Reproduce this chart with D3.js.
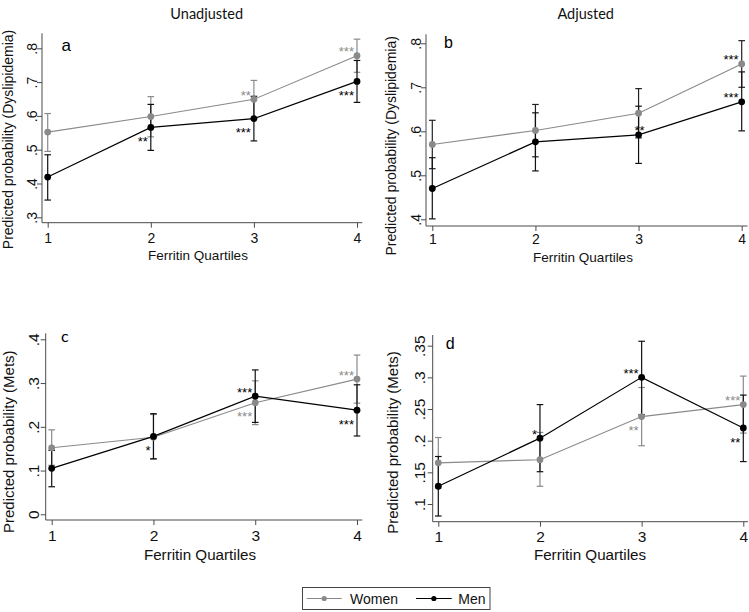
<!DOCTYPE html>
<html>
<head>
<meta charset="utf-8">
<script src="https://cdn.jsdelivr.net/npm/d3@7"></script>
<style>
  html, body { margin: 0; padding: 0; background: #fff; }
  svg { display: block; }
</style>
</head>
<body>
<svg id="chart" width="749" height="612"></svg>
<script>
// ---------------- DATA ----------------
const quartiles = [1, 2, 3, 4];
const seriesNames = ["Women", "Men"];

// Panel a: Dyslipidemia, unadjusted
const aWomen   = [0.552, 0.598, 0.649, 0.778];
const aWomenLo = [0.495, 0.538, 0.592, 0.729];
const aWomenHi = [0.607, 0.657, 0.705, 0.827];
const aMen     = [0.419, 0.566, 0.592, 0.702];
const aMenLo   = [0.351, 0.498, 0.526, 0.640];
const aMenHi   = [0.485, 0.634, 0.658, 0.764];
const aYTicks  = [0.3, 0.4, 0.5, 0.6, 0.7, 0.8];
const aYLabels = [".3", ".4", ".5", ".6", ".7", ".8"];
const aStars = [
  { series: "Women", q: 3, label: "**",  pos: 11 },
  { series: "Women", q: 4, label: "***", pos: 11 },
  { series: "Men",   q: 2, label: "**",  pos: 7 },
  { series: "Men",   q: 3, label: "***", pos: 7 },
  { series: "Men",   q: 4, label: "***", pos: 7 }
];

// Panel b: Dyslipidemia, adjusted
const bWomen   = [0.570, 0.602, 0.641, 0.753];
const bWomenLo = [0.515, 0.542, 0.585, 0.700];
const bWomenHi = [0.625, 0.661, 0.697, 0.806];
const bMen     = [0.470, 0.576, 0.592, 0.667];
const bMenLo   = [0.401, 0.510, 0.527, 0.601];
const bMenHi   = [0.540, 0.642, 0.657, 0.735];
const bYTicks  = [0.4, 0.5, 0.6, 0.7, 0.8];
const bYLabels = [".4", ".5", ".6", ".7", ".8"];
const bStars = [
  { series: "Men",   q: 3, label: "**",  pos: 12 },
  { series: "Women", q: 4, label: "***", pos: 11 },
  { series: "Men",   q: 4, label: "***", pos: 11 }
];

// Panel c: Mets, unadjusted
const cWomen   = [0.152, 0.176, 0.255, 0.309];
const cWomenLo = [0.112, 0.126, 0.205, 0.254];
const cWomenHi = [0.193, 0.228, 0.305, 0.364];
const cMen     = [0.105, 0.178, 0.270, 0.238];
const cMenLo   = [0.063, 0.127, 0.210, 0.179];
const cMenHi   = [0.146, 0.230, 0.330, 0.296];
const cYTicks  = [0, 0.1, 0.2, 0.3, 0.4];
const cYLabels = ["0", ".1", ".2", ".3", ".4"];
const cStars = [
  { series: "Men",   q: 2, label: "*",   pos: 7 },
  { series: "Men",   q: 3, label: "***", pos: 11 },
  { series: "Women", q: 3, label: "***", pos: 7 },
  { series: "Women", q: 4, label: "***", pos: 11 },
  { series: "Men",   q: 4, label: "***", pos: 7 }
];

// Panel d: Mets, adjusted
const dWomen   = [0.165, 0.170, 0.238, 0.257];
const dWomenLo = [0.125, 0.128, 0.192, 0.212];
const dWomenHi = [0.205, 0.213, 0.284, 0.302];
const dMen     = [0.128, 0.204, 0.300, 0.220];
const dMenLo   = [0.081, 0.151, 0.241, 0.167];
const dMenHi   = [0.175, 0.257, 0.357, 0.272];
const dYTicks  = [0.1, 0.15, 0.2, 0.25, 0.3, 0.35];
const dYLabels = [".1", ".15", ".2", ".25", ".3", ".35"];
const dStars = [
  { series: "Men",   q: 2, label: "*",   pos: 11 },
  { series: "Men",   q: 3, label: "***", pos: 11 },
  { series: "Women", q: 3, label: "**",  pos: 7 },
  { series: "Women", q: 4, label: "***", pos: 11 },
  { series: "Men",   q: 4, label: "**",  pos: 7 }
];

const titles = ["Unadjusted", "Adjusted"];
const xTitle = "Ferritin Quartiles";
const yTitles = ["Predicted probability (Dyslipidemia)", "Predicted probability (Mets)"];
const panelLetters = ["a", "b", "c", "d"];

// ---------------- STYLE / LAYOUT ----------------
const GREY = "#8a8a8a";
const BLACK = "#000";
const AXIS = "#4a4a4a";
const FONT = "'Liberation Sans', Arial, sans-serif";

const svg = d3.select("#chart");

function series(vals, lo, hi) {
  return quartiles.map((q, i) => ({ q, v: vals[i], lo: lo[i], hi: hi[i] }));
}

const panels = [
  { letter: panelLetters[0], letterPos: [61.5, 50.7], letterFont: FONT, letterSize: 17,
    women: series(aWomen, aWomenLo, aWomenHi), men: series(aMen, aMenLo, aMenHi),
    yTicks: aYTicks, yLabels: aYLabels, stars: aStars,
    yDomain: [0.3, 0.8], yRange: [217.3, 48.3], xRange: [47.7, 357],
    axisX: 42, axisY: 222.7, axisTop: 33.3, axisRight: 362.3,
    yLabelX: 31.7, xLabelBase: 243.3, tickFont: 14,
    yTitle: yTitles[0], yTitleX: 12.5, yTitleY: 139.5, yTitleSize: 14,
    xTitleX: 198, xTitleY: 260, xTitleSize: 13.5, womenCI: GREY, starInk: null },
  { letter: panelLetters[1], letterPos: [444, 48.3], letterFont: FONT, letterSize: 16,
    women: series(bWomen, bWomenLo, bWomenHi), men: series(bMen, bMenLo, bMenHi),
    yTicks: bYTicks, yLabels: bYLabels, stars: bStars,
    yDomain: [0.4, 0.8], yRange: [219.3, 43.3], xRange: [432.3, 741.7],
    axisX: 426, axisY: 226, axisTop: 34.3, axisRight: 747.5,
    yLabelX: 416, xLabelBase: 244, tickFont: 14,
    yTitle: yTitles[0], yTitleX: 396, yTitleY: 145.8, yTitleSize: 14,
    xTitleX: 583, xTitleY: 262, xTitleSize: 13.5, womenCI: "#222", starInk: BLACK },
  { letter: panelLetters[2], letterPos: [61, 341.7], letterFont: "Lato, 'Open Sans', sans-serif", letterSize: 16,
    women: series(cWomen, cWomenLo, cWomenHi), men: series(cMen, cMenLo, cMenHi),
    yTicks: cYTicks, yLabels: cYLabels, stars: cStars,
    yDomain: [0, 0.4], yRange: [514.3, 339.3], xRange: [51.7, 357],
    axisX: 45.7, axisY: 520, axisTop: 333.3, axisRight: 362.3,
    yLabelX: 33.8, xLabelBase: 540.7, tickFont: 15.5,
    yTitle: yTitles[1], yTitleX: 14, yTitleY: 441.7, yTitleSize: 15,
    xTitleX: 200, xTitleY: 559.5, xTitleSize: 15.2, womenCI: GREY, starInk: null },
  { letter: panelLetters[3], letterPos: [445.7, 349.3], letterFont: FONT, letterSize: 16,
    women: series(dWomen, dWomenLo, dWomenHi), men: series(dMen, dMenLo, dMenHi),
    yTicks: dYTicks, yLabels: dYLabels, stars: dStars,
    yDomain: [0.1, 0.35], yRange: [504, 345.7], xRange: [438.3, 743.3],
    axisX: 432.7, axisY: 521.7, axisTop: 335, axisRight: 748,
    yLabelX: 420, xLabelBase: 541.7, tickFont: 15.5,
    yTitle: yTitles[1], yTitleX: 398.4, yTitleY: 442.5, yTitleSize: 15,
    xTitleX: 590, xTitleY: 559.5, xTitleSize: 15.2, womenCI: GREY, starInk: null }
];

// Column titles
svg.append("text").attr("x", 206.7).attr("y", 19.3).attr("text-anchor", "middle")
  .attr("font-family", "Lato, 'Open Sans', sans-serif").attr("font-size", 14.5).attr("fill", "#111")
  .text(titles[0]);
svg.append("text").attr("x", 585.7).attr("y", 19.3).attr("text-anchor", "middle")
  .attr("font-family", "Lato, 'Open Sans', sans-serif").attr("font-size", 14.5).attr("fill", "#111")
  .text(titles[1]);

panels.forEach(p => {
  const g = svg.append("g");
  const x = d3.scaleLinear().domain([1, 4]).range(p.xRange);
  const y = d3.scaleLinear().domain(p.yDomain).range(p.yRange);

  // Axis lines
  g.append("line").attr("x1", p.axisX).attr("x2", p.axisX).attr("y1", p.axisTop).attr("y2", p.axisY)
    .attr("stroke", AXIS).attr("stroke-width", 1);
  g.append("line").attr("x1", p.axisX).attr("x2", p.axisRight).attr("y1", p.axisY).attr("y2", p.axisY)
    .attr("stroke", AXIS).attr("stroke-width", 1);

  // Y axis ticks
  const yAx = g.append("g").attr("transform", `translate(${p.axisX},0)`)
    .call(d3.axisLeft(y).tickValues(p.yTicks).tickSize(5).tickSizeOuter(0)
      .tickFormat((d, i) => p.yLabels[i]));
  yAx.select(".domain").remove();
  yAx.selectAll(".tick line").attr("stroke", AXIS);
  yAx.selectAll(".tick text")
    .attr("x", null).attr("dy", "0.35em")
    .attr("transform", `translate(${p.yLabelX - p.axisX},0) rotate(-90)`)
    .attr("text-anchor", "middle")
    .attr("font-family", FONT).attr("font-size", p.tickFont).attr("fill", "#111");

  // X axis ticks
  const xAx = g.append("g").attr("transform", `translate(0,${p.axisY})`)
    .call(d3.axisBottom(x).tickValues(quartiles).tickSize(5).tickSizeOuter(0).tickFormat(d3.format("d")));
  xAx.select(".domain").remove();
  xAx.selectAll(".tick line").attr("stroke", AXIS);
  xAx.selectAll(".tick text")
    .attr("y", p.xLabelBase - p.axisY).attr("dy", null)
    .attr("font-family", FONT).attr("font-size", p.tickFont).attr("fill", "#111");

  // Axis titles
  g.append("text")
    .attr("transform", `translate(${p.yTitleX},${p.yTitleY}) rotate(-90)`)
    .attr("text-anchor", "middle")
    .attr("font-family", FONT).attr("font-size", p.yTitleSize).attr("fill", "#111")
    .text(p.yTitle);
  g.append("text").attr("x", p.xTitleX).attr("y", p.xTitleY).attr("text-anchor", "middle")
    .attr("font-family", FONT).attr("font-size", p.xTitleSize).attr("fill", "#111")
    .text(xTitle);

  // Panel letter
  g.append("text").attr("x", p.letterPos[0]).attr("y", p.letterPos[1])
    .attr("font-family", p.letterFont).attr("font-size", p.letterSize).attr("fill", "#000")
    .text(p.letter);

  const drawCI = (data, color, w) => {
    const cg = g.append("g").attr("stroke", color).attr("stroke-width", w);
    data.forEach(d => {
      cg.append("line").attr("x1", x(d.q)).attr("x2", x(d.q)).attr("y1", y(d.lo)).attr("y2", y(d.hi));
      cg.append("line").attr("x1", x(d.q) - 3.3).attr("x2", x(d.q) + 3.3).attr("y1", y(d.lo)).attr("y2", y(d.lo));
      cg.append("line").attr("x1", x(d.q) - 3.3).attr("x2", x(d.q) + 3.3).attr("y1", y(d.hi)).attr("y2", y(d.hi));
    });
  };
  drawCI(p.women, p.womenCI, 1.2);
  drawCI(p.men, "#111", 1.2);

  const line = d3.line().x(d => x(d.q)).y(d => y(d.v));
  g.append("path").datum(p.women).attr("d", line).attr("fill", "none").attr("stroke", GREY).attr("stroke-width", 1.1);
  g.append("path").datum(p.men).attr("d", line).attr("fill", "none").attr("stroke", BLACK).attr("stroke-width", 1.2);

  g.selectAll(null).data(p.women).enter().append("circle")
    .attr("cx", d => x(d.q)).attr("cy", d => y(d.v)).attr("r", 3.4).attr("fill", GREY);
  g.selectAll(null).data(p.men).enter().append("circle")
    .attr("cx", d => x(d.q)).attr("cy", d => y(d.v)).attr("r", 3.4).attr("fill", BLACK);

  // Significance stars
  p.stars.forEach(s => {
    const src = s.series === "Women" ? p.women : p.men;
    const d = src.find(e => e.q === s.q);
    const px = x(d.q), py = y(d.v);
    let tx, cy, anchor;
    if (s.pos === 11) { tx = px - 3; cy = py - 7; anchor = "end"; }
    else if (s.pos === 7) { tx = px - 3; cy = py + 11; anchor = "end"; }
    else { tx = px + 1; cy = py - 7; anchor = "middle"; }
    const color = p.starInk || (s.series === "Women" ? GREY : BLACK);
    g.append("text").attr("x", tx).attr("y", cy + 7.5).attr("text-anchor", anchor)
      .attr("font-family", FONT).attr("font-size", 13).attr("fill", color)
      .text(s.label);
  });
});

// Legend
const lg = svg.append("g");
lg.append("rect").attr("x", 302.5).attr("y", 587.5).attr("width", 187.5).attr("height", 22)
  .attr("fill", "#fff").attr("stroke", "#444").attr("stroke-width", 1);
const legendItems = [
  { name: seriesNames[0], color: GREY, x0: 306.7, x1: 341.7, tx: 350 },
  { name: seriesNames[1], color: BLACK, x0: 416, x1: 451.7, tx: 458.3 }
];
legendItems.forEach(it => {
  lg.append("line").attr("x1", it.x0).attr("x2", it.x1).attr("y1", 598.5).attr("y2", 598.5)
    .attr("stroke", it.color).attr("stroke-width", 1.2);
  lg.append("circle").attr("cx", (it.x0 + it.x1) / 2).attr("cy", 598.5).attr("r", 2.6).attr("fill", it.color);
  lg.append("text").attr("x", it.tx).attr("y", 603.5).attr("font-family", FONT).attr("font-size", 14)
    .attr("fill", "#111").text(it.name);
});
</script>
</body>
</html>
